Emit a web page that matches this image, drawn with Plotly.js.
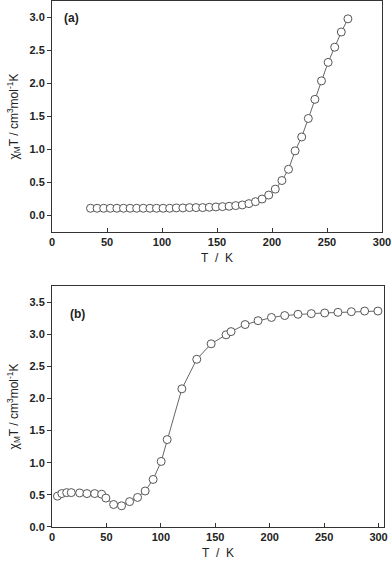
<!DOCTYPE html>
<html>
<head>
<meta charset="utf-8">
<script src="https://cdn.plot.ly/plotly-3.0.1.min.js"></script>
<style>html,body{margin:0;padding:0;background:#fff;}#chart{width:392px;height:563px;}</style>
</head>
<body>
<div id="chart"></div>
<script>
// Panel (a)
var tempA = [35, 41, 47, 53, 59, 65, 71, 77, 83, 89, 95, 101, 107, 113, 119, 125, 131, 137, 143, 149,
             155, 161, 167, 173, 179, 185, 191, 197, 203, 209, 215, 221, 227, 233, 239, 245, 251, 257, 263, 269];
var chiTA = [0.11, 0.11, 0.11, 0.11, 0.11, 0.11, 0.11, 0.11, 0.11, 0.11, 0.11, 0.11, 0.11, 0.115, 0.115, 0.12, 0.12, 0.12, 0.125, 0.13,
             0.135, 0.14, 0.15, 0.16, 0.18, 0.21, 0.25, 0.31, 0.40, 0.53, 0.70, 0.98, 1.19, 1.47, 1.76, 2.04, 2.32, 2.55, 2.78, 2.98];
// Panel (b)
var tempB = [5, 9, 13.5, 17.7, 25.4, 32.1, 39.2, 45.6, 49.5, 56.6, 63.9, 71.3, 78.6, 85.6, 92.9, 100.3, 105.8, 119.3, 133,
             146.2, 159.9, 164.5, 177.4, 189.3, 201.6, 213.8, 226, 238.2, 250.5, 262.7, 275, 287.2, 299.4];
var chiTB = [0.48, 0.52, 0.535, 0.535, 0.53, 0.52, 0.52, 0.51, 0.45, 0.35, 0.33, 0.395, 0.46, 0.56, 0.74, 1.02, 1.36, 2.15, 2.61,
             2.85, 2.99, 3.04, 3.15, 3.21, 3.26, 3.29, 3.31, 3.32, 3.33, 3.34, 3.35, 3.36, 3.36];
var panelLabels = ['(a)', '(b)'];
var xTitle = 'T  /  K';
var yTitle = '\u03C7<sub>M</sub>T / cm<sup>3</sup>mol<sup>-1</sup>K';

var FONT = 'Liberation Sans, Arial, sans-serif';
var marker = {symbol: 'circle', size: 8, color: '#fff', line: {width: 1, color: '#555'}};
var line = {color: '#666', width: 1};

var traces = [
  {x: tempA, y: chiTA, xaxis: 'x', yaxis: 'y', mode: 'lines+markers', marker: marker, line: line, cliponaxis: false},
  {x: tempB, y: chiTB, xaxis: 'x2', yaxis: 'y2', mode: 'lines+markers', marker: marker, line: line, cliponaxis: false}
];

function xax(domain, range, anchor) {
  return {domain: domain, range: range, anchor: anchor, showline: true, mirror: true, linecolor: '#333', linewidth: 1,
    ticks: 'inside', ticklen: 4, tickcolor: '#333', dtick: 50, tick0: 0, showgrid: false, zeroline: false,
    tickfont: {family: FONT, size: 11, color: '#222', weight: 'bold'},
    title: {text: xTitle, font: {family: FONT, size: 12, color: '#222'}, standoff: 6}};
}
function yax(domain, range, anchor) {
  return {domain: domain, range: range, anchor: anchor, showline: true, mirror: true, linecolor: '#333', linewidth: 1,
    ticks: 'outside', ticklen: 4, tickcolor: '#333', dtick: 0.5, tick0: 0, tickformat: '.1f', showgrid: false, zeroline: false,
    tickfont: {family: FONT, size: 11, color: '#222', weight: 'bold'},
    title: {text: yTitle, font: {family: FONT, size: 12, color: '#222'}, standoff: 8}};
}

var layout = {
  width: 392, height: 563,
  margin: {l: 52, r: 8, t: 1, b: 36},
  paper_bgcolor: '#fff', plot_bgcolor: '#fff',
  showlegend: false,
  xaxis: xax([0, 0.994], [0, 300], 'y'),
  yaxis: yax([0.5608, 1], [-0.25, 3.25], 'x'),
  xaxis2: xax([0, 1], [0, 305], 'y2'),
  yaxis2: yax([0, 0.4582], [0, 3.75], 'x2'),
  annotations: [
    {x: 18, y: 3.0, xref: 'x', yref: 'y', text: panelLabels[0], showarrow: false, font: {family: FONT, size: 12, color: '#222', weight: 'bold'}},
    {x: 23, y: 3.32, xref: 'x2', yref: 'y2', text: panelLabels[1], showarrow: false, font: {family: FONT, size: 12, color: '#222', weight: 'bold'}}
  ]
};

Plotly.newPlot('chart', traces, layout, {staticPlot: true, displayModeBar: false});
</script>
</body>
</html>
